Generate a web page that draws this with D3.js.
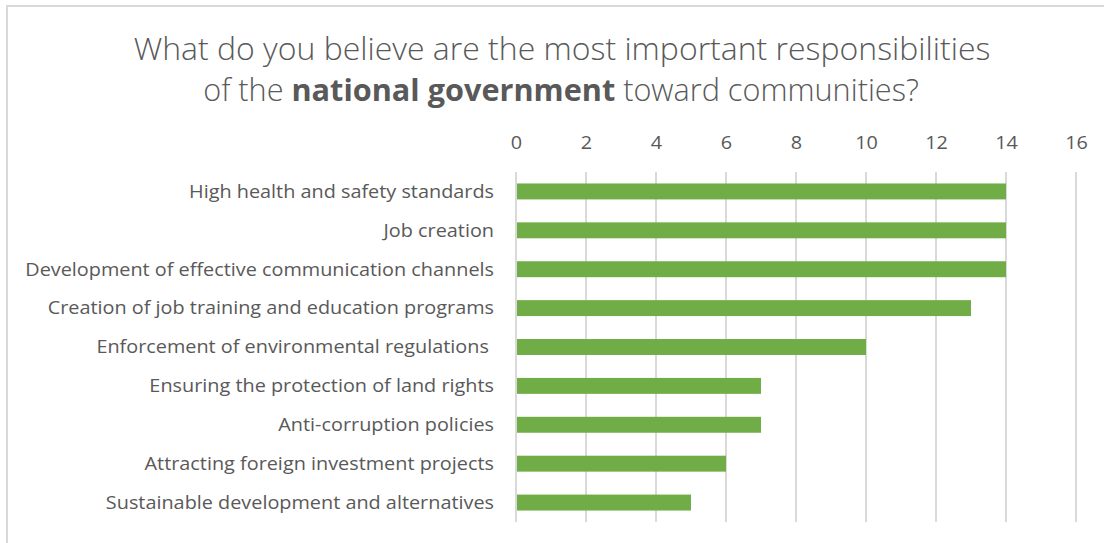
<!DOCTYPE html>
<html>
<head>
<meta charset="utf-8">
<script src="https://cdn.jsdelivr.net/npm/d3@7"></script>
<style>
  html, body { margin: 0; padding: 0; background: #fff; }
  svg { display: block; }
  text { font-family: "Open Sans", "Noto Sans", sans-serif; fill: #595959; }
</style>
</head>
<body>
<svg id="chart"></svg>
<script>
const categories = [
    "High health and safety standards",
    "Job creation",
    "Development of effective communication channels",
    "Creation of job training and education programs",
    "Enforcement of environmental regulations ",
    "Ensuring the protection of land rights",
    "Anti-corruption policies",
    "Attracting foreign investment projects",
    "Sustainable development and alternatives",
];
const counts = [14, 14, 14, 13, 10, 7, 7, 6, 5];
const xTicks = [0, 2, 4, 6, 8, 10, 12, 14, 16];

const WIDTH = 1104;
const HEIGHT = 543;
const PLOT_LEFT = 516;
const PLOT_RIGHT = 1076;
const PLOT_TOP = 172;
const PLOT_BOTTOM = 522;
const LABEL_X = 494;
const BAR_COLOR = "#70AD47";
const GRID_COLOR = "#d9d9d9";

const svg = d3.select("#chart")
    .attr("width", WIDTH)
    .attr("height", HEIGHT);

// chart frame (only top and left edges show in the reference)
svg.append("line")
    .attr("x1", 7).attr("x2", WIDTH)
    .attr("y1", 6).attr("y2", 6)
    .attr("stroke", GRID_COLOR).attr("stroke-width", 2);
svg.append("line")
    .attr("x1", 7).attr("x2", 7)
    .attr("y1", 5).attr("y2", HEIGHT)
    .attr("stroke", GRID_COLOR).attr("stroke-width", 2);

const x = d3.scaleLinear()
    .domain([0, 16])
    .range([PLOT_LEFT, PLOT_RIGHT]);

const y = d3.scaleBand()
    .domain(categories)
    .range([PLOT_TOP, PLOT_BOTTOM])
    .paddingInner(0.59)
    .paddingOuter(0.295);

// squash text horizontally to get close to the narrow Calibri look
function fitWidth(sel, target) {
    const w = sel.node().getComputedTextLength();
    return target / w;
}

// title
const title = svg.append("g").attr("class", "title");
const line1 = title.append("text")
    .attr("text-anchor", "middle")
    .style("font-size", "31px")
    .style("font-weight", 300)
    .text("What do you believe are the most important responsibilities");
const k1 = fitWidth(line1, 857);
line1.attr("transform", `translate(562,60) scale(${k1},1)`);

const line2 = title.append("text")
    .attr("text-anchor", "middle")
    .style("font-size", "31px")
    .style("font-weight", 300);
line2.append("tspan").text("of the ");
line2.append("tspan").style("font-weight", "bold").text("national government");
line2.append("tspan").text(" toward communities?");
const k2 = fitWidth(line2, 716);
line2.attr("transform", `translate(561,101) scale(${k2},1)`);

// gridlines
svg.append("g")
    .selectAll("line")
    .data(xTicks)
    .join("line")
    .attr("x1", (d) => x(d))
    .attr("x2", (d) => x(d))
    .attr("y1", PLOT_TOP)
    .attr("y2", PLOT_BOTTOM)
    .attr("stroke", GRID_COLOR)
    .attr("stroke-width", 2);

// category labels
const labels = svg.append("g")
    .selectAll("text")
    .data(categories)
    .join("text")
    .attr("text-anchor", "end")
    .attr("dy", "0.35em")
    .style("font-size", "18px")
    .style("white-space", "pre")
    .text((d) => d);
const kl = fitWidth(labels.filter((_d, i) => i === 2), 469);
labels.attr("transform", (d) => `translate(${LABEL_X},${y(d) + y.bandwidth() / 2}) scale(${kl},1)`);

// top axis
const axis = svg.append("g")
    .attr("transform", `translate(0,${PLOT_TOP - 29})`)
    .call(d3.axisTop(x).tickValues(xTicks).tickSize(0).tickPadding(0));
axis.select(".domain").remove();
axis.selectAll("text")
    .style("font-size", "18px")
    .attr("fill", "#595959")
    .attr("dy", "0.35em")
    .attr("transform", `scale(${kl},1)`)
    .attr("x", 0);

// bars
svg.append("g")
    .selectAll("rect")
    .data(counts)
    .join("rect")
    .attr("x", x(0) + 1)
    .attr("y", (_d, i) => y(categories[i]))
    .attr("width", (d) => x(d) - x(0) - 1)
    .attr("height", y.bandwidth())
    .attr("fill", BAR_COLOR);
</script>
</body>
</html>
